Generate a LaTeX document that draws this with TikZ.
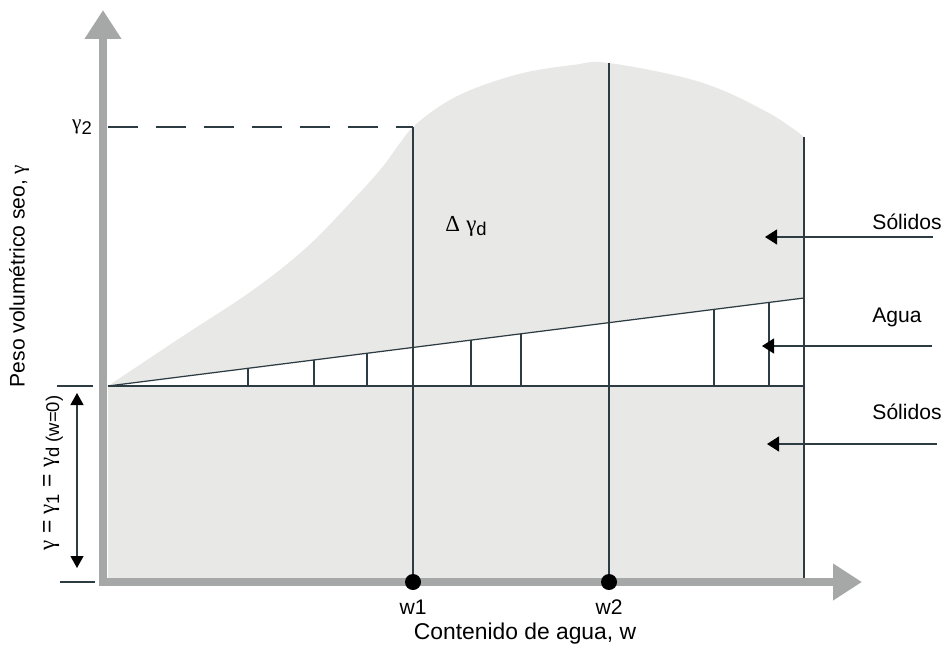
\documentclass[tikz,border=0pt]{standalone}
\usepackage{fontspec}
\setmainfont{Liberation Sans}
\newfontfamily\griega{Liberation Serif}
\usepackage{tikz}
\usetikzlibrary{arrows.meta,positioning,calc}
\usepackage{xcolor}

\definecolor{fondo}{RGB}{232,232,231}
\definecolor{eje}{RGB}{166,168,168}
\definecolor{linea}{RGB}{45,60,66}
\newcommand{\bajo}[1]{\raisebox{-0.4ex}{\fontsize{10.5}{12}\selectfont #1}}
\newcommand{\gam}{{\griega γ}}

\begin{document}
\begin{tikzpicture}[x=0.02cm, y=-0.02cm,
    axis/.style={draw=eje, line width=0.16cm, line cap=rect, -{Triangle[length=0.58cm, width=0.7cm]}},
    thinline/.style={draw=linea, line width=0.7pt},
    flecha/.style={thinline, -{Triangle[length=0.24cm, width=0.3cm, color=black]}},
    label/.style={font=\fontsize{12}{14}\selectfont, inner sep=0pt},
    dot/.style={circle, fill=black, minimum size=0.32cm, inner sep=0pt}
]
\useasboundingbox (0,0) rectangle (945,652);

\coordinate (O) at (103,582);
\coordinate (ytip) at (103,10);
\coordinate (xtip) at (862,582);
\coordinate (A) at (108,386);
\coordinate (B) at (804,386);
\coordinate (C) at (804,298);
\coordinate (D) at (804,137);

% regions
\fill[fondo] (108,578) -- plot[smooth, tension=0.6] coordinates {(108,386) (180,338) (253,290) (307,247) (350,203) (380,170) (400,143) (413,127) (440,106) (473,89) (523,73) (573,65) (609,63) (700,82) (767,112) (804,137)} -- (804,578) -- cycle;
\fill[white] (A) -- (C) -- (B) -- cycle;

% lines
\draw[thinline] (A) -- (B);
\draw[thinline] (A) -- (C);
\draw[thinline] (D) -- (804,582);
\foreach \x in {248,314,367,471,521,714,769}
    \draw[thinline] (\x,386) -- (\x,{386-0.12644*(\x-108)});
\draw[thinline, dash pattern=on 0.6cm off 0.36cm] (108,127) -- (413,127);

% axes
\draw[axis] (O) -- (ytip);
\draw[axis] (O) -- (xtip);

\node[dot] (w1dot) at (413,582) {};
\node[dot] (w2dot) at (609,582) {};
\draw[thinline] (413,127) -- (w1dot);
\draw[thinline] (609,63) -- (w2dot);

% dimension
\draw[thinline] (57,386) -- (93,386);
\draw[thinline] (60,582) -- (95,582);
\draw[thinline, {Triangle[length=0.24cm, width=0.26cm, color=black]}-{Triangle[length=0.24cm, width=0.26cm, color=black]}] (77,393) -- (77,568);

% labels
\node[label] (g2) at (82,127) {\gam\bajo{2}};
\node[label, font=\fontsize{13}{15}\selectfont] (dgd) at (466,226) {{\griega Δ} \gam\bajo{d}};
\node[label, rotate=90] (ylab) at (19,276) {Peso volumétrico seo, \gam};
\node[label, rotate=90, font=\fontsize{13}{15}\selectfont] (g1) at (53,473) {\gam\ = \gam\bajo{1} = \gam\bajo{d (w=0)}};
\node[label] (w1) at (413,607) {w1};
\node[label] (w2) at (609,607) {w2};
\node[label, font=\fontsize{13}{15}\selectfont] (xlab) at (525,634) {Contenido de agua, w};

\node[label] (sol1) at (907,222) {Sólidos};
\node[label] (agua) at (897,317) {Agua};
\node[label] (sol2) at (907,412) {Sólidos};
\coordinate (s1) at (933,237);
\coordinate (s2) at (932,346);
\coordinate (s3) at (937,444);
\draw[flecha] (s1) -- (765,237);
\draw[flecha] (s2) -- (762,346);
\draw[flecha] (s3) -- (767,444);

\end{tikzpicture}
\end{document}
